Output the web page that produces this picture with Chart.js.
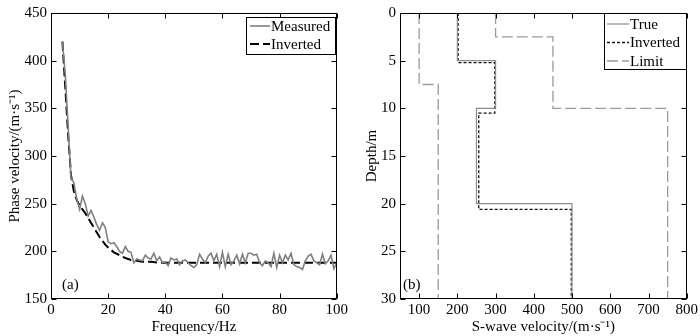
<!DOCTYPE html>
<html><head><meta charset="utf-8">
<script src="https://cdn.jsdelivr.net/npm/chart.js@4/dist/chart.umd.min.js"></script>
<style>
html,body{margin:0;padding:0;background:#fff;}
#wrap{position:relative;width:700px;height:336px;}
canvas{position:absolute;top:0;}
#c1{left:0;} #c2{left:350px;}
</style></head>
<body><div id="wrap"><canvas id="c1" width="350" height="336"></canvas><canvas id="c2" width="350" height="336"></canvas></div>
<script>
// ---------- Panel (a) data ----------
const measuredFreq = [4,5,6,7,8,9,10,11,12,13,14,15,16,17,18,19,20,21,22,23,24,25,26,27,28,29,30,31,32,33,34,35,36,37,38,39,40,41,42,43,44,45,46,47,48,49,50,51,52,53,54,55,56,57,58,59,60,61,62,63,64,65,66,67,68,69,70,71,72,73,74,75,76,77,78,79,80,81,82,83,84,85,86,87,88,89,90,91,92,93,94,95,96,97,98,99,100];
const measuredVel = [420,385,330,277,272,255,244,258,250,237,243,236,228,222,230,225,210,208,209,205,200,198,205,200,199,188,192,191,190,196,193,192,198,190,194,188,189,185,193,191,192,186,190,191,188,185,183,186,197,192,188,195,198,190,197,184,199,184,197,186,190,196,187,197,188,198,198,196,197,188,185,190,188,184,198,183,196,188,196,191,198,186,184,183,181,190,195,197,190,188,186,197,187,190,196,182,188];
const invertedFreq = [4,5,6,7,8,9,10,11,12,13,14,15,16,17,18,19,20,22,24,26,28,30,32,35,38,40,45,50,60,70,80,90,100];
const invertedVel = [420,372,322,280,263,254,248,244,240,235,230,225,220,215,211,207,204,199,196,193,191,190,189,189,188,188,188,188,188,188,188,188,188];
const xTicksA = [0,20,40,60,80,100];
const yTicksA = [150,200,250,300,350,400,450];

// ---------- Panel (b) data ----------
const trueVel = [200,300,250,500];
const trueDepth = [0,5,10,20,30];
const invVel = [202,298,256,498];
const invDepth = [0,5.2,10.5,20.6,30];
const limitLowVel = [100,150];
const limitLowDepth = [0,7.5,30];
const limitHighVel = [300,450,750];
const limitHighDepth = [0,2.5,10,30];
const xTicksB = [100,200,300,400,500,600,700,800];
const yTicksB = [0,5,10,15,20,25,30];

const FONT = "'Liberation Serif','Times New Roman',serif";
const FS = 15;

function pairs(xs, ys){ return xs.map((x,i)=>({x:x,y:ys[i]})); }
function steps(vel, depth){
  const pts=[];
  for(let i=0;i<vel.length;i++){ pts.push({x:vel[i],y:depth[i]}); pts.push({x:vel[i],y:depth[i+1]}); }
  return pts;
}

// Frame + inward ticks + legend + panel label
function framePlugin(opts){
  return {
    id:'frame',
    afterDraw(chart){
      const ctx=chart.ctx, a=chart.chartArea, xs=chart.scales.x, ys=chart.scales.y;
      ctx.save();
      ctx.strokeStyle='#000'; ctx.lineWidth=1;
      const L=Math.round(a.left)+0.5, R=Math.round(a.right)-0.5, T=Math.round(a.top)+0.5, B=Math.round(a.bottom)-0.5;
      ctx.strokeRect(L,T,R-L,B-T);
      const tl=5;
      ctx.beginPath();
      opts.xTicks.forEach(v=>{ const p=Math.round(xs.getPixelForValue(v))+0.5; ctx.moveTo(p,B); ctx.lineTo(p,B-tl); ctx.moveTo(p,T); ctx.lineTo(p,T+tl); });
      opts.yTicks.forEach(v=>{ const p=Math.round(ys.getPixelForValue(v))+0.5; ctx.moveTo(L,p); ctx.lineTo(L+tl,p); ctx.moveTo(R,p); ctx.lineTo(R-tl,p); });
      ctx.stroke();
      // panel label
      ctx.fillStyle='#000'; ctx.font=FS+'px '+FONT; ctx.textBaseline='middle'; ctx.textAlign='left';
      ctx.fillText(opts.panel, a.left+opts.panelDx, a.bottom-14);
      // legend
      const lg=opts.legend;
      ctx.fillStyle='#fff';
      ctx.fillRect(lg.x, lg.y, lg.w, lg.h);
      ctx.strokeStyle='#000'; ctx.lineWidth=1;
      ctx.strokeRect(lg.x+0.5, lg.y+0.5, lg.w, lg.h);
      chart.data.datasets.forEach((ds,i)=>{
        if(ds.hideInLegend) return;
        const yy=lg.y+lg.first+i*lg.step;
        ctx.beginPath();
        ctx.setLineDash(ds.borderDash||[]);
        ctx.strokeStyle=ds.borderColor; ctx.lineWidth=ds.borderWidth;
        ctx.moveTo(lg.x+lg.l0, yy); ctx.lineTo(lg.x+lg.l1, yy); ctx.stroke();
        ctx.setLineDash([]);
        ctx.fillStyle='#000'; ctx.font=FS+'px '+FONT; ctx.textBaseline='middle'; ctx.textAlign='left';
        ctx.fillText(ds.label, lg.x+lg.l1+1, yy+1);
      });
      ctx.restore();
    }
  };
}

function axisCommon(min,max,ticks,title,fixed,pos,titlePad){
  return {
    type:'linear', position:pos, min:min, max:max,
    afterBuildTicks(s){ s.ticks = ticks.map(v=>({value:v})); },
    afterFit(s){ if(pos==='bottom') s.height=fixed; else s.width=fixed; },
    grid:{display:false, drawTicks:false},
    border:{display:false},
    ticks:{color:'#000', font:{family:FONT,size:FS}, padding: pos==='bottom'?2:4, autoSkip:false, maxRotation:0},
    title:{display:true, text:title, color:'#000', font:{family:FONT,size:FS}, padding:titlePad}
  };
}

new Chart(document.getElementById('c1'),{
  type:'scatter',
  data:{datasets:[
    {label:'Measured', data:pairs(measuredFreq,measuredVel), showLine:true, pointRadius:0, borderColor:'#7f7f7f', borderWidth:1.6, tension:0},
    {label:'Inverted', data:pairs(invertedFreq,invertedVel), showLine:true, pointRadius:0, borderColor:'#000', borderWidth:2, borderDash:[9,4], tension:0}
  ]},
  options:{
    responsive:false, animation:false, devicePixelRatio:1,
    layout:{padding:{top:13,right:10,left:0,bottom:0}},
    plugins:{legend:{display:false}, tooltip:{enabled:false}},
    scales:{
      x:axisCommon(0,100,xTicksA,'Frequency/Hz',37,'bottom',{top:0,bottom:0}),
      y:axisCommon(150,450,yTicksA,'Phase velocity/(m·s⁻¹)',51,'left',{top:6,bottom:0})
    }
  },
  plugins:[framePlugin({xTicks:xTicksA,yTicks:yTicksA,panel:'(a)',panelDx:11,
    legend:{x:246,y:17,w:89,h:37,first:9,step:18,l0:4,l1:24}})]
});

new Chart(document.getElementById('c2'),{
  type:'scatter',
  data:{datasets:[
    {label:'True', data:steps(trueVel,trueDepth), showLine:true, pointRadius:0, borderColor:'#8c8c8c', borderWidth:1.2, tension:0},
    {label:'Inverted', data:steps(invVel,invDepth), showLine:true, pointRadius:0, borderColor:'#111', borderWidth:1.3, borderDash:[3,2], tension:0},
    {label:'Limit', data:steps(limitHighVel,limitHighDepth), showLine:true, pointRadius:0, borderColor:'#9a9a9a', borderWidth:1.3, borderDash:[11,4], tension:0},
    {label:'Limit', hideInLegend:true, data:steps(limitLowVel,limitLowDepth), showLine:true, pointRadius:0, borderColor:'#9a9a9a', borderWidth:1.3, borderDash:[11,4], tension:0}
  ]},
  options:{
    responsive:false, animation:false, devicePixelRatio:1,
    layout:{padding:{top:10,right:10,left:0,bottom:0}},
    plugins:{legend:{display:false}, tooltip:{enabled:false}},
    scales:{
      x:axisCommon(50,800,xTicksB,'S-wave velocity/(m·s⁻¹)',37,'bottom',{top:0,bottom:0}),
      y:Object.assign(axisCommon(0,30,yTicksB,'Depth/m',50,'left',{top:13,bottom:0}),{reverse:true})
    }
  },
  plugins:[framePlugin({xTicks:xTicksB,yTicks:yTicksB,panel:'(b)',panelDx:3,
    legend:{x:254,y:13,w:82,h:56,first:11,step:18.5,l0:3,l1:25}})]
});
</script>
</body></html>
